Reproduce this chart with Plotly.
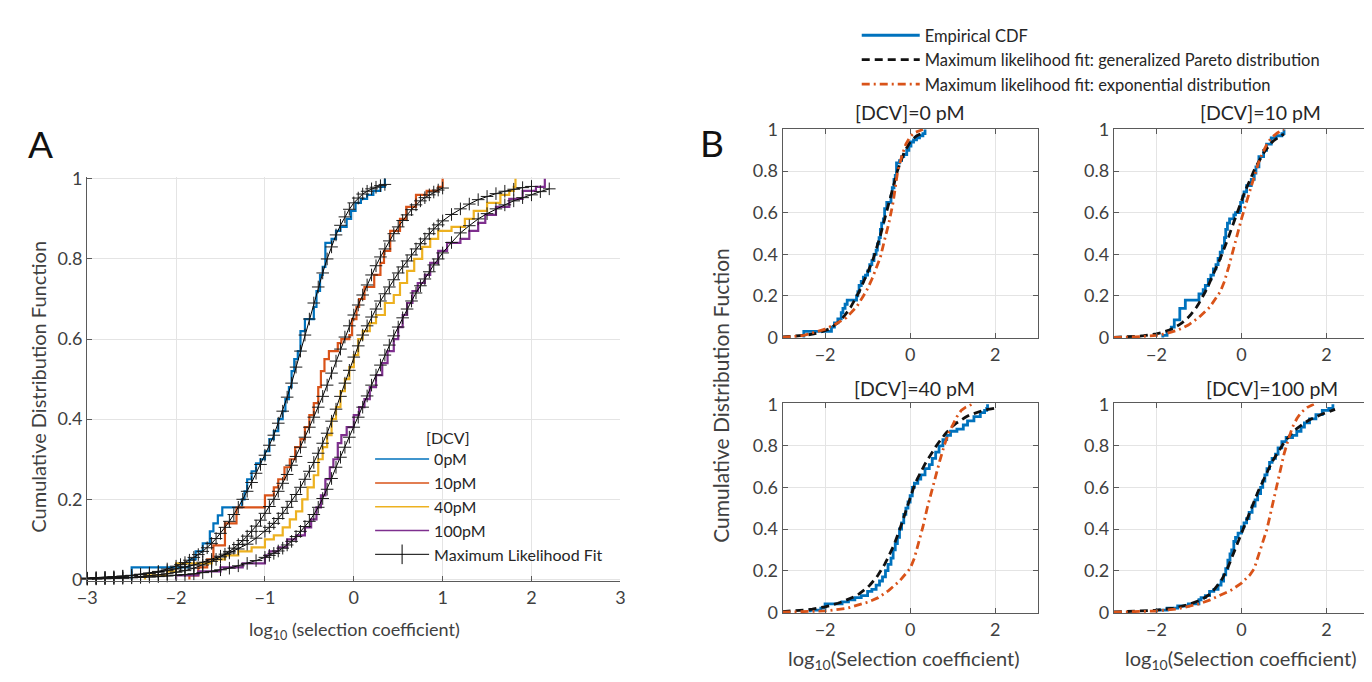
import plotly.graph_objects as go

W, H = 1372, 682

CONC_LABELS = ["0pM", "10pM", "40pM", "100pM"]
PANEL_B_TITLES = ["[DCV]=0 pM", "[DCV]=10 pM", "[DCV]=40 pM", "[DCV]=100 pM"]
COLORS = ["#0072BD", "#D95319", "#EDB120", "#7E2F8E"]
X_TICKS_A = [-3, -2, -1, 0, 1, 2, 3]
X_TICKS_B = [-2, 0, 2]
Y_TICKS = [0, 0.2, 0.4, 0.6, 0.8, 1]

# Empirical CDFs: (log10 selection coefficient, cumulative fraction) step corners
EMP_0PM = [(-2.5, 0.0), (-2.5, 0.03), (-1.85, 0.05), (-1.78, 0.07), (-1.7, 0.09), (-1.62, 0.12),
           (-1.58, 0.14), (-1.53, 0.16), (-1.48, 0.18), (-1.26, 0.2), (-1.23, 0.22), (-1.2, 0.25),
           (-1.15, 0.27), (-1.1, 0.29), (-1.05, 0.3), (-1.0, 0.32), (-0.95, 0.35), (-0.9, 0.37),
           (-0.85, 0.4), (-0.8, 0.42), (-0.77, 0.45), (-0.73, 0.48), (-0.7, 0.52), (-0.67, 0.55),
           (-0.63, 0.57), (-0.6, 0.62), (-0.55, 0.65), (-0.45, 0.68), (-0.42, 0.72), (-0.38, 0.76),
           (-0.35, 0.78), (-0.32, 0.84), (-0.25, 0.85), (-0.2, 0.87), (-0.15, 0.88), (-0.08, 0.9),
           (-0.03, 0.92), (0.02, 0.94), (0.08, 0.95), (0.15, 0.96), (0.22, 0.97), (0.3, 0.98), (0.35, 1.0)]
EMP_10PM = [(-1.85, 0.0), (-1.85, 0.01), (-1.75, 0.03), (-1.65, 0.05), (-1.58, 0.085), (-1.45, 0.14),
            (-1.32, 0.18), (-1.0, 0.21), (-0.9, 0.23), (-0.85, 0.25), (-0.78, 0.28), (-0.72, 0.3),
            (-0.66, 0.33), (-0.6, 0.35), (-0.55, 0.38), (-0.5, 0.41), (-0.45, 0.44), (-0.4, 0.48),
            (-0.37, 0.52), (-0.33, 0.55), (-0.28, 0.57), (-0.18, 0.59), (-0.14, 0.6), (-0.05, 0.61),
            (-0.02, 0.65), (0.03, 0.68), (0.06, 0.7), (0.12, 0.73), (0.23, 0.76), (0.3, 0.79),
            (0.34, 0.82), (0.41, 0.87), (0.52, 0.9), (0.59, 0.93), (0.7, 0.96), (0.82, 0.97),
            (0.95, 0.98), (1.0, 1.0)]
EMP_40PM = [(-2.35, 0.0), (-2.35, 0.01), (-2.1, 0.02), (-2.0, 0.04), (-1.6, 0.05), (-1.45, 0.06),
            (-1.3, 0.07), (-1.15, 0.08), (-1.0, 0.1), (-0.9, 0.11), (-0.8, 0.13), (-0.72, 0.15),
            (-0.65, 0.17), (-0.58, 0.2), (-0.52, 0.23), (-0.45, 0.26), (-0.4, 0.3), (-0.35, 0.33),
            (-0.3, 0.36), (-0.25, 0.4), (-0.2, 0.43), (-0.15, 0.47), (-0.1, 0.5), (-0.05, 0.53),
            (0.0, 0.56), (0.05, 0.6), (0.1, 0.62), (0.18, 0.64), (0.25, 0.66), (0.35, 0.69),
            (0.45, 0.71), (0.52, 0.74), (0.6, 0.77), (0.68, 0.8), (0.77, 0.83), (0.86, 0.85),
            (0.95, 0.87), (1.1, 0.88), (1.25, 0.9), (1.35, 0.92), (1.5, 0.94), (1.65, 0.96),
            (1.75, 0.97), (1.8, 0.98), (1.82, 1.0)]
EMP_100PM = [(-2.0, 0.0), (-2.0, 0.01), (-1.75, 0.02), (-1.5, 0.03), (-1.25, 0.04), (-1.0, 0.06),
             (-0.95, 0.07), (-0.85, 0.08), (-0.75, 0.1), (-0.65, 0.11), (-0.55, 0.13), (-0.48, 0.15),
             (-0.42, 0.18), (-0.37, 0.21), (-0.32, 0.25), (-0.27, 0.28), (-0.23, 0.3), (-0.18, 0.34),
             (-0.14, 0.36), (-0.08, 0.38), (0.0, 0.41), (0.06, 0.43), (0.12, 0.45), (0.18, 0.48),
             (0.25, 0.51), (0.32, 0.54), (0.38, 0.57), (0.45, 0.6), (0.5, 0.63), (0.55, 0.66),
             (0.6, 0.69), (0.66, 0.72), (0.72, 0.74), (0.8, 0.76), (0.86, 0.79), (0.95, 0.82),
             (1.05, 0.84), (1.2, 0.85), (1.3, 0.87), (1.4, 0.89), (1.48, 0.91), (1.6, 0.93),
             (1.75, 0.95), (1.9, 0.97), (2.05, 0.98), (2.15, 1.0)]

# Maximum likelihood fits: generalized Pareto distribution
GP_0PM = [(-3.0, .003), (-2.9, .004), (-2.8, .005), (-2.7, .006), (-2.6, .008), (-2.5, .010), (-2.4, .013),
          (-2.3, .016), (-2.2, .02), (-2.1, .026), (-2.0, .033), (-1.95, .037), (-1.9, .042), (-1.85, .048),
          (-1.8, .055), (-1.75, .062), (-1.7, .07), (-1.65, .079), (-1.6, .09), (-1.55, .102), (-1.5, .115),
          (-1.45, .13), (-1.4, .145), (-1.35, .162), (-1.3, .18), (-1.25, .2), (-1.2, .22), (-1.15, .242),
          (-1.1, .265), (-1.05, .287), (-1.0, .31), (-0.95, .335), (-0.9, .36), (-0.85, .39), (-0.8, .42),
          (-0.75, .455), (-0.7, .49), (-0.65, .53), (-0.6, .57), (-0.55, .61), (-0.5, .65), (-0.45, .69),
          (-0.4, .73), (-0.35, .765), (-0.3, .8), (-0.25, .83), (-0.2, .86), (-0.15, .884), (-0.1, .905),
          (-0.05, .924), (0.0, .94), (0.05, .952), (0.1, .962), (0.15, .969), (0.2, .975), (0.25, .979),
          (0.3, .983), (0.35, .986)]
GP_10PM = [(-3.0, .001), (-2.9, .0015), (-2.8, .002), (-2.7, .003), (-2.6, .004), (-2.5, .005), (-2.4, .007),
           (-2.3, .009), (-2.2, .011), (-2.1, .014), (-2.0, .018), (-1.9, .022), (-1.8, .028), (-1.7, .036),
           (-1.6, .045), (-1.55, .05), (-1.5, .056), (-1.45, .063), (-1.4, .07), (-1.35, .078), (-1.3, .087),
           (-1.25, .097), (-1.2, .108), (-1.15, .12), (-1.1, .133), (-1.05, .148), (-1.0, .165), (-0.95, .182),
           (-0.9, .2), (-0.85, .22), (-0.8, .24), (-0.75, .262), (-0.7, .285), (-0.65, .307), (-0.6, .33),
           (-0.55, .355), (-0.5, .38), (-0.45, .405), (-0.4, .43), (-0.35, .457), (-0.3, .485), (-0.25, .515),
           (-0.2, .545), (-0.15, .575), (-0.1, .605), (-0.05, .633), (0.0, .66), (0.05, .685), (0.1, .71),
           (0.15, .735), (0.2, .76), (0.25, .783), (0.3, .805), (0.35, .825), (0.4, .845), (0.45, .863),
           (0.5, .88), (0.55, .896), (0.6, .91), (0.65, .923), (0.7, .935), (0.75, .945), (0.8, .953),
           (0.85, .96), (0.9, .967), (0.95, .972), (1.0, .977)]
GP_40PM = [(-3.0, .003), (-2.9, .004), (-2.8, .005), (-2.7, .006), (-2.6, .008), (-2.5, .01), (-2.4, .012),
           (-2.3, .015), (-2.2, .018), (-2.1, .022), (-2.0, .026), (-1.9, .031), (-1.8, .036), (-1.7, .043),
           (-1.6, .05), (-1.5, .058), (-1.4, .066), (-1.3, .076), (-1.2, .088), (-1.1, .103), (-1.0, .12),
           (-0.95, .13), (-0.9, .14), (-0.85, .152), (-0.8, .165), (-0.75, .18), (-0.7, .195), (-0.65, .212),
           (-0.6, .23), (-0.55, .25), (-0.5, .27), (-0.45, .292), (-0.4, .315), (-0.35, .34), (-0.3, .365),
           (-0.25, .395), (-0.2, .425), (-0.15, .457), (-0.1, .49), (-0.05, .522), (0.0, .555), (0.05, .583),
           (0.1, .61), (0.15, .633), (0.2, .655), (0.25, .675), (0.3, .695), (0.35, .713), (0.4, .73),
           (0.45, .748), (0.5, .765), (0.55, .78), (0.6, .795), (0.65, .81), (0.7, .825), (0.75, .838),
           (0.8, .85), (0.85, .863), (0.9, .875), (0.95, .885), (1.0, .895), (1.1, .911), (1.2, .925),
           (1.3, .937), (1.4, .948), (1.5, .956), (1.6, .963), (1.7, .969), (1.8, .974), (1.9, .978), (2.0, .981)]
GP_100PM = [(-3.0, .001), (-2.9, .0015), (-2.8, .002), (-2.7, .0025), (-2.6, .003), (-2.5, .004), (-2.4, .005),
            (-2.3, .006), (-2.2, .007), (-2.1, .0085), (-2.0, .01), (-1.9, .012), (-1.8, .014), (-1.7, .017),
            (-1.6, .02), (-1.5, .024), (-1.4, .028), (-1.3, .034), (-1.2, .04), (-1.1, .047), (-1.0, .055),
            (-0.95, .06), (-0.9, .065), (-0.85, .071), (-0.8, .078), (-0.75, .086), (-0.7, .095), (-0.65, .107),
            (-0.6, .12), (-0.55, .132), (-0.5, .145), (-0.45, .162), (-0.4, .18), (-0.35, .202), (-0.3, .225),
            (-0.25, .252), (-0.2, .28), (-0.15, .305), (-0.1, .33), (-0.05, .355), (0.0, .38), (0.05, .405),
            (0.1, .43), (0.15, .458), (0.2, .485), (0.25, .51), (0.3, .535), (0.35, .56), (0.4, .585),
            (0.45, .608), (0.5, .63), (0.55, .653), (0.6, .675), (0.65, .695), (0.7, .715), (0.75, .733),
            (0.8, .75), (0.85, .768), (0.9, .785), (0.95, .8), (1.0, .815), (1.1, .841), (1.2, .865),
            (1.3, .883), (1.4, .9), (1.5, .913), (1.6, .925), (1.7, .935), (1.8, .945), (1.9, .953),
            (2.0, .96), (2.1, .968), (2.2, .975)]

# Maximum likelihood fits: exponential distribution
EXP_0PM = [(-3.0, 0.0), (-2.5, 0.01), (-2.0, 0.04), (-1.75, 0.065), (-1.5, 0.095), (-1.25, 0.15),
           (-1.1, 0.2), (-1.0, 0.235), (-0.9, 0.28), (-0.8, 0.33), (-0.7, 0.385), (-0.6, 0.47),
           (-0.5, 0.55), (-0.4, 0.65), (-0.3, 0.79), (-0.2, 0.87), (-0.1, 0.93), (0.0, 0.965),
           (0.1, 0.985), (0.3, 1.0)]
EXP_10PM = [(-3.0, 0.0), (-2.5, 0.003), (-2.0, 0.01), (-1.75, 0.02), (-1.5, 0.035), (-1.25, 0.06),
            (-1.0, 0.097), (-0.75, 0.145), (-0.5, 0.22), (-0.4, 0.27), (-0.3, 0.34), (-0.2, 0.42),
            (-0.1, 0.5), (0.0, 0.57), (0.1, 0.64), (0.2, 0.71), (0.3, 0.78), (0.4, 0.84), (0.5, 0.89),
            (0.6, 0.93), (0.7, 0.96), (0.85, 0.985), (1.0, 1.0)]
EXP_40PM = [(-3.0, 0.0), (-2.5, 0.002), (-2.0, 0.006), (-1.5, 0.018), (-1.0, 0.048), (-0.75, 0.07),
            (-0.5, 0.105), (-0.25, 0.15), (0.0, 0.21), (0.1, 0.26), (0.2, 0.33), (0.3, 0.41),
            (0.4, 0.5), (0.5, 0.58), (0.6, 0.65), (0.7, 0.73), (0.8, 0.8), (0.9, 0.86), (1.0, 0.9),
            (1.1, 0.94), (1.2, 0.97), (1.3, 0.985), (1.45, 1.0)]
EXP_100PM = [(-3.0, 0.0), (-2.5, 0.002), (-2.0, 0.006), (-1.5, 0.016), (-1.0, 0.04), (-0.75, 0.058),
             (-0.5, 0.08), (-0.25, 0.105), (0.0, 0.14), (0.2, 0.18), (0.3, 0.21), (0.4, 0.27),
             (0.5, 0.33), (0.6, 0.4), (0.7, 0.49), (0.8, 0.58), (0.9, 0.67), (1.0, 0.76), (1.1, 0.83),
             (1.2, 0.89), (1.3, 0.93), (1.4, 0.96), (1.55, 0.985), (1.7, 1.0)]

EMPIRICAL = [EMP_0PM, EMP_10PM, EMP_40PM, EMP_100PM]
GP_FITS = [GP_0PM, GP_10PM, GP_40PM, GP_100PM]
EXP_FITS = [EXP_0PM, EXP_10PM, EXP_40PM, EXP_100PM]


def xs(pairs):
    return [p[0] for p in pairs]


def ys(pairs):
    return [p[1] for p in pairs]


def px(x):
    return x / W


def py(y):
    return 1 - y / H


FONT = "Lato"
TXT = "#262626"
TICK = "#404040"
AXL = "#5a5a5a"
GRID = "#e4e4e4"

fig = go.Figure()

# ---------------- Panel A ----------------
for i in range(4):
    d = EMPIRICAL[i]
    fig.add_trace(go.Scatter(x=xs(d), y=ys(d), mode="lines", line=dict(color=COLORS[i], width=2.2, shape="hv"),
                             showlegend=False, xaxis="x", yaxis="y", hoverinfo="skip"))
for i in range(4):
    f = GP_FITS[i]
    fig.add_trace(go.Scatter(x=xs(f), y=ys(f), mode="lines+markers",
                             line=dict(color="black", width=1),
                             marker=dict(symbol="cross-thin", size=9, line=dict(color="#1a1a1a", width=1)),
                             cliponaxis=False, showlegend=False, xaxis="x", yaxis="y", hoverinfo="skip"))
# legend entries for panel A
for i in range(4):
    fig.add_trace(go.Scatter(x=[None], y=[None], mode="lines", line=dict(color=COLORS[i], width=1.5),
                             name=CONC_LABELS[i], legend="legend", xaxis="x", yaxis="y"))
fig.add_trace(go.Scatter(x=[None], y=[None], mode="lines+markers", line=dict(color="black", width=1),
                         marker=dict(symbol="line-ns", size=14, line=dict(color="black", width=1)),
                         name="Maximum Likelihood Fit", legend="legend", xaxis="x", yaxis="y"))

# ---------------- Panel B ----------------
for i in range(4):
    k = i + 2
    xa, ya = f"x{k}", f"y{k}"
    d, g, e = EMPIRICAL[i], GP_FITS[i], EXP_FITS[i]
    first = (i == 0)
    fig.add_trace(go.Scatter(x=xs(d), y=ys(d), mode="lines", line=dict(color="#0072BD", width=2.8, shape="hv"),
                             name="Empirical CDF", showlegend=first, legend="legend2",
                             xaxis=xa, yaxis=ya, hoverinfo="skip"))
    fig.add_trace(go.Scatter(x=xs(g), y=ys(g), mode="lines", line=dict(color="#111111", width=2.8, dash="8px,5px"),
                             name="Maximum likelihood fit: generalized Pareto distribution", showlegend=first,
                             legend="legend2", xaxis=xa, yaxis=ya, hoverinfo="skip"))
    fig.add_trace(go.Scatter(x=xs(e), y=ys(e), mode="lines",
                             line=dict(color="#D95319", width=2.8, dash="8px,4px,2px,4px"),
                             name="Maximum likelihood fit: exponential distribution", showlegend=first,
                             legend="legend2", xaxis=xa, yaxis=ya, hoverinfo="skip"))

axis_common = dict(showgrid=True, gridcolor=GRID, gridwidth=1, zeroline=False, showline=True,
                   linecolor=AXL, linewidth=1.2, ticks="inside", ticklen=5, tickcolor=AXL,
                   tickfont=dict(family=FONT, size=18, color=TICK))

layout = dict(
    width=W, height=H, margin=dict(l=0, r=0, t=0, b=0),
    paper_bgcolor="white", plot_bgcolor="white",
    font=dict(family=FONT, color=TXT),
    xaxis=dict(domain=[px(70), px(609)], range=[-3, 3], tickvals=X_TICKS_A, anchor="y", **axis_common),
    yaxis=dict(domain=[py(579), py(163)], range=[-0.004, 1.004], tickvals=Y_TICKS, anchor="x", **axis_common),
    legend=dict(x=px(356), y=py(436), xanchor="left", yanchor="top", bgcolor="rgba(0,0,0,0)",
                font=dict(family=FONT, size=16, color=TXT), itemwidth=54),
    legend2=dict(x=px(848), y=py(-1), xanchor="left", yanchor="top", bgcolor="rgba(0,0,0,0)",
                 font=dict(family=FONT, size=16.5, color=TXT), itemwidth=58),
)

cols = [(773, 1031), (1108, 1366)]
rows = [(113, 329), (396, 612)]
for i in range(4):
    k = i + 2
    c = cols[i % 2]
    r = rows[i // 2]
    layout[f"xaxis{k}"] = dict(domain=[px(c[0]), px(c[1])], range=[-3, 3], tickvals=X_TICKS_B,
                               anchor=f"y{k}", mirror="ticks", **axis_common)
    layout[f"yaxis{k}"] = dict(domain=[py(r[1]), py(r[0])], range=[-0.004, 1.004], tickvals=Y_TICKS,
                               anchor=f"x{k}", mirror="ticks", **axis_common)

fig.update_layout(**layout)

ann = []
ann.append(dict(text="A", x=px(23), y=py(128), font=dict(family=FONT, size=37, color="#111111")))
ann.append(dict(text="B", x=px(702), y=py(127), font=dict(family=FONT, size=37, color="#111111")))
ann.append(dict(text="[DCV]", x=px(435), y=py(431), font=dict(family=FONT, size=16, color=TXT)))
ann.append(dict(text="Cumulative Distribution Function", x=px(20), y=py(379), textangle=-90,
                font=dict(family=FONT, size=20, color=TICK)))
ann.append(dict(text="log<sub>10</sub> (selection coefficient)", x=px(340), y=py(630),
                font=dict(family=FONT, size=18, color=TICK)))
ann.append(dict(text="Cumulative Distribution Fuction", x=px(710), y=py(388), textangle=-90,
                font=dict(family=FONT, size=21, color=TICK)))
title_pos = [(902, 96), (1256, 96), (906, 381), (1268, 381)]
for i in range(4):
    ann.append(dict(text=PANEL_B_TITLES[i], x=px(title_pos[i][0]), y=py(title_pos[i][1]),
                    font=dict(family=FONT, size=19.5, color=TXT)))
for cx in [896, 1237]:
    ann.append(dict(text="log<sub>10</sub>(Selection coefficient)", x=px(cx), y=py(660),
                    font=dict(family=FONT, size=20, color=TICK)))
for a in ann:
    a.update(xref="paper", yref="paper", showarrow=False, xanchor="center", yanchor="middle")
fig.update_layout(annotations=ann)

fig.write_html("out.html")
